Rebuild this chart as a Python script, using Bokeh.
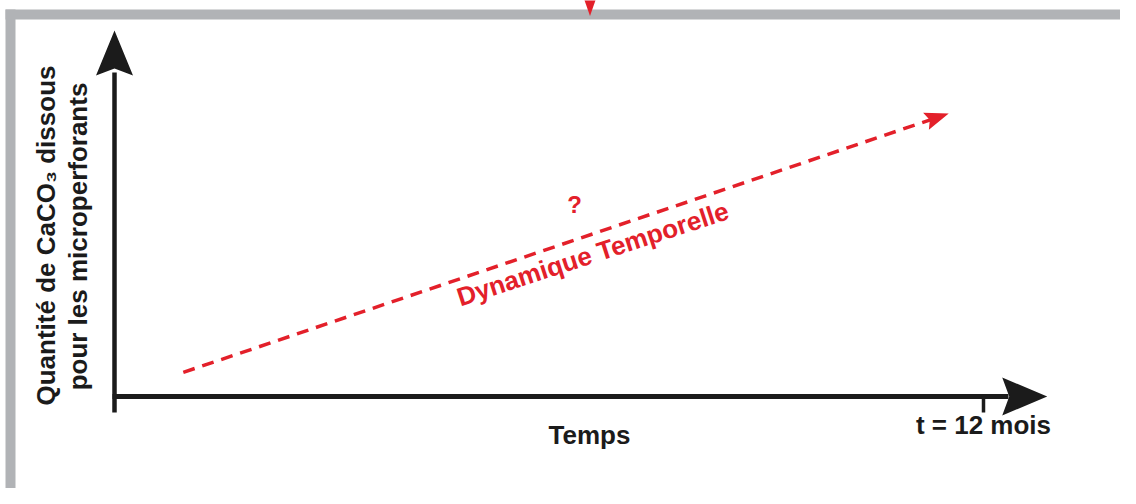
import math
from bokeh.plotting import figure
from bokeh.models import Range1d
from bokeh.core.properties import value
from bokeh.embed import file_html
from bokeh.resources import INLINE

# ---------------- data ----------------
time_axis = [0.0, 12.88]          # months: x-axis arrow from origin to tip
qty_axis = [0.0, 10.0]            # quantity (arbitrary units): y-axis arrow
tick_month = [12.0]               # marked time
tick_label = ["t = 12 mois"]
trend_t = [0.95, 11.52]           # dashed "dynamique temporelle" trend
trend_q = [0.66, 7.73]
x_title = "Temps"
y_title_lines = ["Quantité de CaCO₃ dissous", "pour les microperforants"]
trend_label = "Dynamique Temporelle"
question = "?"

# ---------------- layout helpers (pixel <-> data) ----------------
W, H = 1120, 488
X0_PX, PX_PER_MONTH = 114.0, (983.0 - 114.0) / 12.0
Y0_PX, PX_PER_UNIT = 396.0, (396.0 - 30.0) / 10.0
SHIFT = 9.0   # text baseline correction (px)


def tx(px):
    return (px - X0_PX) / PX_PER_MONTH


def qy(py):
    return (Y0_PX - py) / PX_PER_UNIT


def mx(t):
    return X0_PX + t * PX_PER_MONTH


def my(q):
    return Y0_PX - q * PX_PER_UNIT


RED = "#e3202a"
BLACK = "#1b1b1b"
GRAY = "#b1b3b6"
FONT = value("Liberation Sans")

p = figure(width=W, height=H, output_backend="svg", toolbar_location=None,
           x_range=Range1d(tx(0), tx(W)),
           y_range=Range1d(qy(H), qy(0)),
           min_border=0, outline_line_color=None,
           background_fill_color="white", border_fill_color="white")
p.axis.visible = False
p.grid.visible = False

# ---------------- gray frame ----------------
p.quad(left=[tx(5), tx(5), tx(5)], right=[tx(15), tx(1134), tx(1134)],
       bottom=[qy(504), qy(19), qy(504)], top=[qy(9), qy(9), qy(499)],
       fill_color=GRAY, line_color=None)
# red marker on top of frame
p.patch([tx(582), tx(597), tx(589.5)], [qy(-6), qy(-6), qy(15.5)],
        fill_color=RED, line_color=None)


def head(tip_t, tip_q, from_t, from_q, length, half, notch):
    tpx, tpy = mx(tip_t), my(tip_q)
    fpx, fpy = mx(from_t), my(from_q)
    dx, dy = tpx - fpx, tpy - fpy
    n = math.hypot(dx, dy)
    ux, uy = dx / n, dy / n
    vx, vy = -uy, ux
    bx, by = tpx - ux * length, tpy - uy * length
    pts = [(tpx, tpy),
           (bx + vx * half, by + vy * half),
           (tpx - ux * (length - notch), tpy - uy * (length - notch)),
           (bx - vx * half, by - vy * half)]
    return [tx(a) for a, _ in pts], [qy(b) for _, b in pts]


# ---------------- axes (arrows) ----------------
p.line([time_axis[0], time_axis[0]], [qy(412), qy(72)], line_color=BLACK, line_width=4.5)
hx, hy = head(time_axis[0], qty_axis[1], time_axis[0], qty_axis[0], 45, 18.5, 7)
p.patch(hx, hy, fill_color=BLACK, line_color=None)
p.line([tx(112), tx(1008)], [qty_axis[0], qty_axis[0]], line_color=BLACK, line_width=5)
hx, hy = head(time_axis[1], qty_axis[0], time_axis[0], qty_axis[0], 45, 19, 7)
p.patch(hx, hy, fill_color=BLACK, line_color=None)
p.segment(x0=tick_month, y0=[qty_axis[0]] * len(tick_month),
          x1=tick_month, y1=[qy(412)] * len(tick_month),
          line_color=BLACK, line_width=3.5)

# ---------------- labels ----------------
p.text(x=tick_month, y=[qy(433 - SHIFT)], text=tick_label, text_font=FONT,
       text_font_style="bold", text_font_size="26px", text_color=BLACK,
       text_align="center", text_baseline="alphabetic")
p.text(x=[tx(589)], y=[qy(443 - SHIFT)], text=[x_title], text_font=FONT,
       text_font_style="bold", text_font_size="26px", text_color=BLACK,
       text_align="center", text_baseline="alphabetic")
p.text(x=[tx(54 - SHIFT), tx(86 - SHIFT)], y=[qy(235), qy(236)], text=y_title_lines,
       text_font=FONT, text_font_style="bold", text_font_size="26px",
       text_color=BLACK, text_align="center", text_baseline="alphabetic",
       angle=math.pi / 2)

# ---------------- dashed trend arrow ----------------
dx_px = mx(trend_t[1]) - mx(trend_t[0])
dy_px = my(trend_q[1]) - my(trend_q[0])
seg_len = math.hypot(dx_px, dy_px)
shaft_end_px = (mx(trend_t[0]) + dx_px * (seg_len - 18) / seg_len,
                my(trend_q[0]) + dy_px * (seg_len - 18) / seg_len)
p.line([trend_t[0], tx(shaft_end_px[0])], [trend_q[0], qy(shaft_end_px[1])],
       line_color=RED, line_width=3.5, line_dash="12 8")
hx, hy = head(trend_t[1], trend_q[1], trend_t[0], trend_q[0], 24, 9, 4)
p.patch(hx, hy, fill_color=RED, line_color=None)

a18 = math.radians(18)
p.text(x=[tx(574)], y=[qy(213 - SHIFT)], text=[question], text_font=FONT,
       text_font_style="bold", text_font_size="24px", text_color=RED,
       text_align="center", text_baseline="alphabetic")
p.text(x=[tx(595 - SHIFT * math.sin(a18))], y=[qy(262 - SHIFT * math.cos(a18))],
       text=[trend_label], text_font=FONT, text_font_style="bold",
       text_font_size="26px", text_color=RED, text_align="center",
       text_baseline="alphabetic", angle=a18)

open("out.html", "w").write(file_html(p, INLINE))
